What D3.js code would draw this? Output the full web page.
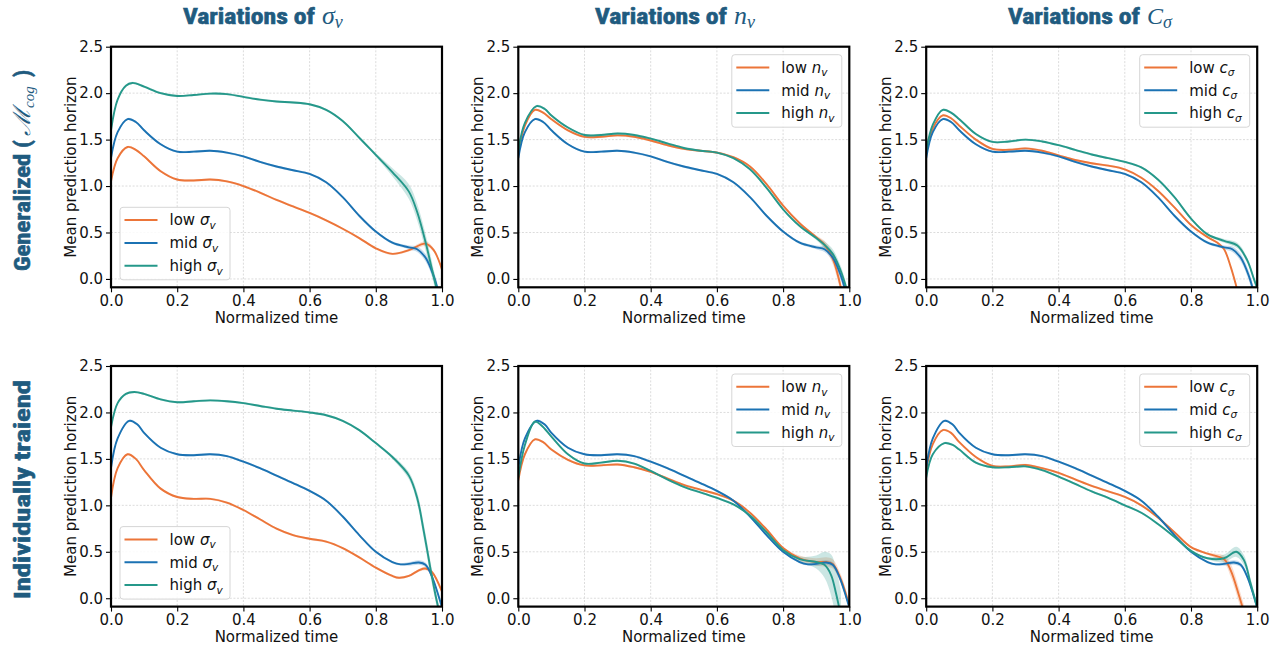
<!DOCTYPE html>
<html><head><meta charset="utf-8">
<script src="https://cdn.jsdelivr.net/npm/d3@7"></script>
<style>body{margin:0;background:#fff;} svg{display:block;}</style>
</head><body><svg id="c" width="1283" height="649"></svg>
<script>
// ---------- data ----------
const xTicks = [0, 0.2, 0.4, 0.6, 0.8, 1.0];
const yTicks = [0, 0.5, 1.0, 1.5, 2.0, 2.5];
const levelNames = ["low", "mid", "high"];
const columnParams = [["σ", "v"], ["n", "v"], ["c", "σ"]];
const rowLabels = ["Generalized", "Individually traiend"];

// [t, mean, band half-width (optional)]
const genMid = [[0,1.3],[0.02,1.58],[0.05,1.72],[0.075,1.69],[0.1,1.6],[0.15,1.45],[0.2,1.37],[0.25,1.37],[0.3,1.38],[0.35,1.36],[0.4,1.32],[0.45,1.26],[0.5,1.21],[0.55,1.17],[0.6,1.13],[0.65,1.04],[0.7,0.88],[0.75,0.68],[0.8,0.51],[0.85,0.39,0.015],[0.9,0.34,0.02],[0.925,0.32,0.03],[0.95,0.23,0.04],[0.975,0.03,0.05],[0.99,-0.15,0.05]];
const genSigLow = [[0,1.05],[0.02,1.3],[0.05,1.42],[0.075,1.39],[0.1,1.32],[0.15,1.16],[0.2,1.07],[0.25,1.06],[0.3,1.07],[0.35,1.05],[0.4,1.0],[0.45,0.93],[0.5,0.85],[0.55,0.78],[0.6,0.71],[0.65,0.63],[0.7,0.54],[0.75,0.44],[0.8,0.33],[0.85,0.27],[0.9,0.31,0.015],[0.95,0.38,0.025],[0.975,0.31,0.02],[1.0,0.1]];
const genSigHigh = [[0,1.6],[0.02,1.93],[0.045,2.08],[0.065,2.11],[0.1,2.07],[0.15,2.0],[0.2,1.97],[0.25,1.98],[0.3,1.995],[0.35,1.99],[0.4,1.96],[0.45,1.93],[0.5,1.91],[0.55,1.9],[0.6,1.88],[0.65,1.82],[0.7,1.7],[0.75,1.52],[0.8,1.335,0.02],[0.85,1.15,0.045],[0.9,0.94,0.08],[0.925,0.72,0.09],[0.95,0.4,0.09],[0.97,0.1,0.08],[0.99,-0.2,0.06]];
const genNLow = [[0,1.35],[0.02,1.65],[0.05,1.82],[0.075,1.79],[0.1,1.72],[0.15,1.6],[0.2,1.53],[0.25,1.53],[0.3,1.545],[0.35,1.53],[0.4,1.49],[0.45,1.44],[0.5,1.4],[0.55,1.38],[0.6,1.36],[0.65,1.31],[0.7,1.21],[0.75,1.02],[0.8,0.79],[0.85,0.6],[0.9,0.45,0.02],[0.925,0.37,0.04],[0.95,0.22,0.06],[0.975,-0.1,0.06]];
const genNHigh = [[0,1.38],[0.02,1.68],[0.055,1.86],[0.08,1.83],[0.1,1.76],[0.15,1.63],[0.2,1.55],[0.25,1.55],[0.3,1.565],[0.35,1.55],[0.4,1.51],[0.45,1.46],[0.5,1.41],[0.55,1.38],[0.6,1.36],[0.65,1.3],[0.7,1.18],[0.75,0.98],[0.8,0.75],[0.85,0.57],[0.9,0.44,0.02],[0.93,0.35,0.04],[0.95,0.27,0.05],[0.975,0.08,0.05],[0.995,-0.15,0.05]];
const genCLow = [[0,1.35],[0.02,1.62],[0.05,1.76],[0.075,1.73],[0.1,1.65],[0.15,1.5],[0.2,1.4],[0.25,1.39],[0.3,1.405],[0.35,1.38],[0.4,1.33],[0.45,1.28],[0.5,1.245],[0.55,1.22],[0.6,1.18],[0.65,1.09],[0.7,0.95],[0.75,0.77],[0.8,0.58],[0.85,0.45],[0.88,0.39],[0.9,0.32],[0.92,0.13],[0.94,-0.12]];
const genCHigh = [[0,1.38],[0.02,1.66],[0.05,1.82],[0.075,1.79],[0.1,1.72],[0.15,1.56],[0.2,1.475],[0.25,1.48],[0.3,1.5],[0.35,1.48],[0.4,1.44],[0.45,1.39],[0.5,1.34],[0.55,1.3],[0.6,1.26],[0.65,1.2],[0.7,1.07],[0.75,0.88],[0.8,0.65],[0.85,0.48],[0.9,0.41,0.02],[0.94,0.36,0.03],[0.97,0.2,0.03],[0.99,0.0,0.03],[1.0,-0.1,0.03]];

const indMid = [[0,1.4],[0.02,1.72],[0.055,1.91],[0.08,1.87],[0.1,1.78],[0.15,1.62],[0.2,1.55],[0.25,1.54],[0.3,1.55],[0.35,1.53],[0.4,1.47],[0.45,1.4],[0.5,1.32],[0.55,1.24],[0.6,1.155],[0.65,1.05],[0.7,0.88],[0.75,0.68],[0.8,0.5],[0.85,0.39],[0.875,0.365],[0.9,0.37,0.02],[0.93,0.385,0.025],[0.95,0.36,0.025],[0.97,0.23,0.025],[0.99,0.02,0.02],[1.0,-0.1]];
const indSigLow = [[0,1.08],[0.02,1.4],[0.05,1.55],[0.075,1.5],[0.1,1.38],[0.15,1.18],[0.2,1.09],[0.25,1.07],[0.3,1.07],[0.35,1.03],[0.4,0.95],[0.45,0.85],[0.5,0.75],[0.55,0.68],[0.6,0.64],[0.65,0.61],[0.7,0.54],[0.75,0.44],[0.8,0.33],[0.85,0.24],[0.87,0.22],[0.9,0.24],[0.93,0.3,0.015],[0.95,0.32,0.02],[0.97,0.28,0.02],[1.0,0.07]];
const indSigHigh = [[0,1.84],[0.02,2.1],[0.045,2.2],[0.07,2.22],[0.1,2.2],[0.15,2.14],[0.2,2.11],[0.25,2.12],[0.3,2.13],[0.35,2.12],[0.4,2.1],[0.45,2.07],[0.5,2.04],[0.55,2.02],[0.6,2.0],[0.65,1.97],[0.7,1.91],[0.75,1.81],[0.8,1.67],[0.85,1.52,0.02],[0.9,1.32,0.04],[0.925,1.08,0.06],[0.945,0.72,0.08],[0.965,0.32,0.08],[0.98,0.04,0.07],[0.995,-0.2,0.06]];
const indNLow = [[0,1.27],[0.02,1.55],[0.05,1.71],[0.075,1.68],[0.1,1.6],[0.15,1.49],[0.2,1.43],[0.25,1.43],[0.3,1.44],[0.35,1.41],[0.4,1.36],[0.45,1.29],[0.5,1.22],[0.55,1.17],[0.6,1.12],[0.65,1.05],[0.7,0.92],[0.75,0.74],[0.8,0.54],[0.85,0.43,0.03],[0.9,0.39,0.04],[0.93,0.39,0.05],[0.95,0.37,0.05],[0.975,0.2,0.05],[1.0,-0.08,0.04]];
const indNHigh = [[0,1.3],[0.02,1.65],[0.05,1.9],[0.07,1.86],[0.1,1.74],[0.15,1.55],[0.2,1.45],[0.25,1.46],[0.3,1.48],[0.35,1.45],[0.4,1.37],[0.45,1.28],[0.5,1.2],[0.55,1.14],[0.6,1.08],[0.65,1.01],[0.7,0.89],[0.75,0.71],[0.8,0.52],[0.85,0.42,0.03],[0.9,0.39,0.07],[0.925,0.36,0.14],[0.945,0.25,0.22],[0.96,0.05,0.27],[0.975,-0.2,0.27]];
const indCLow = [[0,1.38],[0.02,1.66],[0.05,1.81],[0.075,1.78],[0.1,1.68],[0.15,1.52],[0.2,1.425],[0.25,1.42],[0.3,1.435],[0.35,1.4],[0.4,1.35],[0.45,1.28],[0.5,1.21],[0.55,1.15],[0.6,1.09],[0.65,1.0],[0.7,0.87],[0.75,0.71],[0.8,0.55],[0.85,0.48],[0.9,0.42,0.04],[0.92,0.3,0.07],[0.945,0.03,0.08],[0.96,-0.15,0.08]];
const indCHigh = [[0,1.3],[0.02,1.55],[0.055,1.67],[0.08,1.65],[0.1,1.6],[0.15,1.46],[0.2,1.41],[0.25,1.41],[0.3,1.42],[0.35,1.38],[0.4,1.31],[0.45,1.23],[0.5,1.15],[0.55,1.08],[0.6,1.0],[0.65,0.92],[0.7,0.8],[0.75,0.66],[0.8,0.51],[0.85,0.43],[0.9,0.43,0.04],[0.937,0.5,0.055],[0.96,0.41,0.055],[0.98,0.16,0.05],[1.0,-0.1,0.05]];

// ---------- layout / style ----------
const colors = ["#EC7539", "#1B72B3", "#25988A"];
const titleColor = "#1f5b7f";
const colLeft = [111, 518.3, 926.2];
const rowTop = [46.7, 366];
const W = 331, H = 240.6;
const yDomain = [-0.09, 2.5];

const panels = [
  {row:0, col:0, series:[genSigLow, genMid, genSigHigh], legend:"ll"},
  {row:0, col:1, series:[genNLow, genMid, genNHigh], legend:"ur"},
  {row:0, col:2, series:[genCLow, genMid, genCHigh], legend:"ur"},
  {row:1, col:0, series:[indSigLow, indMid, indSigHigh], legend:"ll"},
  {row:1, col:1, series:[indNLow, indMid, indNHigh], legend:"ur"},
  {row:1, col:2, series:[indCLow, indMid, indCHigh], legend:"ur"},
];

const svg = d3.select("#c");
const FONT = "'DejaVu Sans', sans-serif";
const defs = svg.append("defs");

panels.forEach((p, i) => {
  const L = colLeft[p.col], T = rowTop[p.row];
  const x = d3.scaleLinear().domain([0, 1]).range([L, L + W]);
  const y = d3.scaleLinear().domain(yDomain).range([T + H, T]);
  const g = svg.append("g");

  defs.append("clipPath").attr("id", "clip" + i)
    .append("rect").attr("x", L).attr("y", T).attr("width", W).attr("height", H);

  // grid
  g.append("g").selectAll("line").data(xTicks).join("line")
    .attr("x1", d => x(d)).attr("x2", d => x(d)).attr("y1", T).attr("y2", T + H)
    .attr("stroke", "#d8d8d8").attr("stroke-width", 0.9).attr("stroke-dasharray", "2,1.6");
  g.append("g").selectAll("line").data(yTicks).join("line")
    .attr("y1", d => y(d)).attr("y2", d => y(d)).attr("x1", L).attr("x2", L + W)
    .attr("stroke", "#d8d8d8").attr("stroke-width", 0.9).attr("stroke-dasharray", "2,1.6");

  // axes
  const xAxis = d3.axisBottom(x).tickValues(xTicks).tickFormat(d3.format(".1f")).tickSize(5).tickPadding(3);
  const yAxis = d3.axisLeft(y).tickValues(yTicks).tickFormat(d3.format(".1f")).tickSize(5).tickPadding(3);
  const gx = g.append("g").attr("transform", `translate(0,${T + H})`).call(xAxis);
  const gy = g.append("g").attr("transform", `translate(${L},0)`).call(yAxis);
  [gx, gy].forEach(a => {
    a.select(".domain").remove();
    a.selectAll("line").attr("stroke", "#000").attr("stroke-width", 1.1);
    a.selectAll("text").attr("font-family", FONT).attr("font-size", 15).attr("fill", "#111");
  });

  // labels
  g.append("text").attr("x", L + W / 2).attr("y", T + H + 35.5).attr("text-anchor", "middle")
    .attr("font-family", FONT).attr("font-size", 15).attr("fill", "#111").text("Normalized time");
  g.append("text").attr("transform", `translate(${L - 35},${T + H / 2}) rotate(-90)`)
    .attr("text-anchor", "middle").attr("font-family", FONT).attr("font-size", 15).attr("fill", "#111")
    .text("Mean prediction horizon");

  // bands and lines
  const plot = g.append("g").attr("clip-path", `url(#clip${i})`);
  const curve = d3.curveCatmullRom.alpha(0.5);
  const hw = d => (d[2] === undefined ? 0.012 : d[2]);
  const area = d3.area().x(d => x(d[0])).y0(d => y(d[1] - hw(d))).y1(d => y(d[1] + hw(d))).curve(curve);
  const line = d3.line().x(d => x(d[0])).y(d => y(d[1])).curve(curve);
  p.series.forEach((s, k) => {
    plot.append("path").attr("d", area(s)).attr("fill", colors[k]).attr("fill-opacity", 0.24).attr("stroke", "none");
  });
  p.series.forEach((s, k) => {
    plot.append("path").attr("d", line(s)).attr("fill", "none").attr("stroke", colors[k]).attr("stroke-width", 1.9);
  });

  // frame
  g.append("rect").attr("x", L).attr("y", T).attr("width", W).attr("height", H)
    .attr("fill", "none").attr("stroke", "#000").attr("stroke-width", 2.2);

  // legend
  const bw = 110, bh = 72.5;
  const bx = p.legend === "ll" ? L + 9 : L + W - 7.5 - bw;
  const by = p.legend === "ll" ? T + H - 7.5 - bh : T + 8;
  const lg = g.append("g");
  lg.append("rect").attr("x", bx).attr("y", by).attr("width", bw).attr("height", bh).attr("rx", 3)
    .attr("fill", "#fff").attr("fill-opacity", 0.85).attr("stroke", "#d6d6d6").attr("stroke-width", 1);
  const [sym, sub] = columnParams[p.col];
  levelNames.forEach((nm, k) => {
    const yy = by + 12.8 + k * 22.8;
    lg.append("line").attr("x1", bx + 4.5).attr("x2", bx + 37.5).attr("y1", yy).attr("y2", yy)
      .attr("stroke", colors[k]).attr("stroke-width", 2);
    const t = lg.append("text").attr("x", bx + 49.5).attr("y", yy + 5.3)
      .attr("font-family", FONT).attr("font-size", 15).attr("fill", "#111");
    t.append("tspan").text(nm + " ");
    t.append("tspan").attr("font-style", "italic").text(sym);
    t.append("tspan").attr("font-style", "italic").attr("font-size", 10.5).attr("dy", 3.5).text(sub);
  });
});

// column titles
const titleX = [183, 595, 1008];
const titleFont = "'Liberation Sans Narrow', 'Roboto Condensed', 'Roboto', sans-serif";
const mathFont = "'Liberation Serif', 'DejaVu Serif', serif";
columnParams.forEach(([sym, sub], c) => {
  const x0 = titleX[c];
  svg.append("text").attr("x", x0).attr("y", 24).attr("font-family", titleFont)
    .attr("font-weight", "bold").attr("font-size", 22).attr("fill", titleColor)
    .attr("stroke", titleColor).attr("stroke-width", 0.6)
    .attr("textLength", 132).attr("lengthAdjust", "spacingAndGlyphs").text("Variations of");
  const m = svg.append("text").attr("x", x0 + 139).attr("y", 24).attr("font-family", mathFont)
    .attr("font-style", "italic").attr("fill", titleColor);
  m.append("tspan").attr("font-size", sym === "c" ? 24 : 26).text(sym === "c" ? "C" : sym);
  m.append("tspan").attr("font-size", 18).attr("dy", 4).text(sub);
});

// row labels
const r1 = svg.append("g").attr("transform", "translate(29.5,0) rotate(-90)");
r1.append("text").attr("x", -271).attr("y", 0).attr("font-family", titleFont).attr("font-weight", "bold")
  .attr("font-size", 22).attr("fill", titleColor).attr("stroke", titleColor).attr("stroke-width", 0.6)
  .attr("textLength", 131).attr("lengthAdjust", "spacingAndGlyphs")
  .text(rowLabels[0] + " (");
const mm = r1.append("text").attr("x", -136).attr("y", 0).attr("font-family", mathFont)
  .attr("font-style", "italic").attr("fill", titleColor);
mm.append("tspan").attr("font-size", 24).text("ℳ");
mm.append("tspan").attr("font-size", 15).attr("dy", 4).text("cog");
r1.append("text").attr("x", -77).attr("y", 0).attr("font-family", titleFont).attr("font-weight", "bold")
  .attr("font-size", 22).attr("fill", titleColor).attr("stroke", titleColor).attr("stroke-width", 0.6).text(")");

const r2 = svg.append("g").attr("transform", "translate(29.5,0) rotate(-90)");
r2.append("text").attr("x", -599).attr("y", 0).attr("font-family", titleFont).attr("font-weight", "bold")
  .attr("font-size", 22).attr("fill", titleColor).attr("stroke", titleColor).attr("stroke-width", 0.6)
  .attr("textLength", 219).attr("lengthAdjust", "spacingAndGlyphs")
  .text(rowLabels[1]);
</script>
</body></html>
